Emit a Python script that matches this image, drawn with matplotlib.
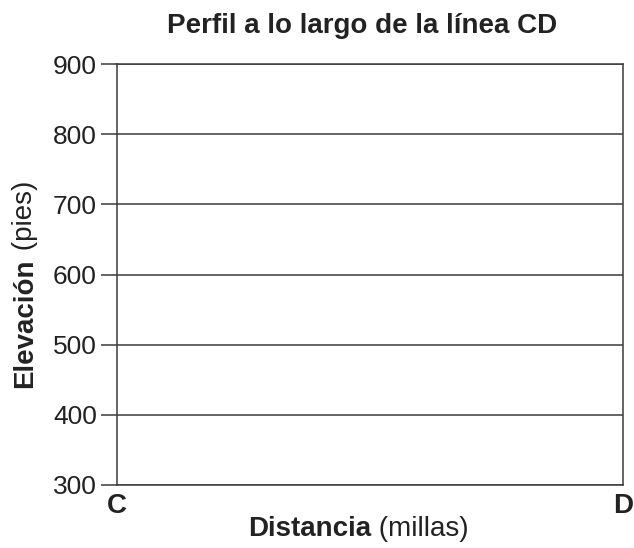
import matplotlib
matplotlib.use("Agg")
import matplotlib.pyplot as plt

plt.rcParams['font.family'] = ['Liberation Sans', 'DejaVu Sans']

# valores del eje
elevaciones = [300, 400, 500, 600, 700, 800, 900]
extremos = ['C', 'D']
distancia = [0, 1]

titulo = 'Perfil a lo largo de la línea CD'
color_linea = '#3a3a3a'
color_texto = '#222222'

fig = plt.figure(figsize=(6.34, 5.48), dpi=100)
ax = fig.add_axes([117/634, 1-485/548, (623-117)/634, (485-64)/548])

ax.set_xlim(distancia[0], distancia[1])
ax.set_ylim(elevaciones[0], elevaciones[-1])
ax.set_yticks(elevaciones)
ax.set_yticklabels([str(e) for e in elevaciones], fontsize=19, color=color_texto)
ax.set_xticks([])
ax.tick_params(axis='y', length=11.5, width=1.1, color=color_linea, pad=3)

for e in elevaciones:
    ax.axhline(e, color=color_linea, lw=1.1, zorder=1)

for s in ax.spines.values():
    s.set_color(color_linea)
    s.set_linewidth(1.1)

# etiquetas C y D bajo los extremos
for d, nombre in zip(distancia, extremos):
    ax.annotate(nombre, xy=(d, 0), xycoords=('data', 'axes fraction'),
                xytext=(0, -6), textcoords='offset points',
                ha='center', va='top', fontsize=20, fontweight='bold', color=color_texto)

fig.text(362/634, 1-33/548, titulo, ha='center', va='baseline',
         fontsize=20, fontweight='bold', color=color_texto)

# eje x: parte en negrita y parte normal
t1 = fig.text(371/634, 1-536/548, 'Distancia', ha='right', va='baseline',
              fontsize=20, fontweight='bold', color=color_texto)
ax.annotate(' (millas)', xy=(1, 0), xycoords=t1, ha='left', va='bottom',
            fontsize=20, color=color_texto)

# eje y
t2 = fig.text(38/634, 1-388/548, 'Elevación', ha='left', va='bottom', rotation=90,
              rotation_mode='anchor', fontsize=20, fontweight='bold', color=color_texto)
ax.annotate(' (pies)', xy=(1, 1), xycoords=t2, ha='left', va='bottom', rotation=90,
            rotation_mode='anchor', fontsize=20, color=color_texto)

fig.savefig('out.png', dpi=100)
